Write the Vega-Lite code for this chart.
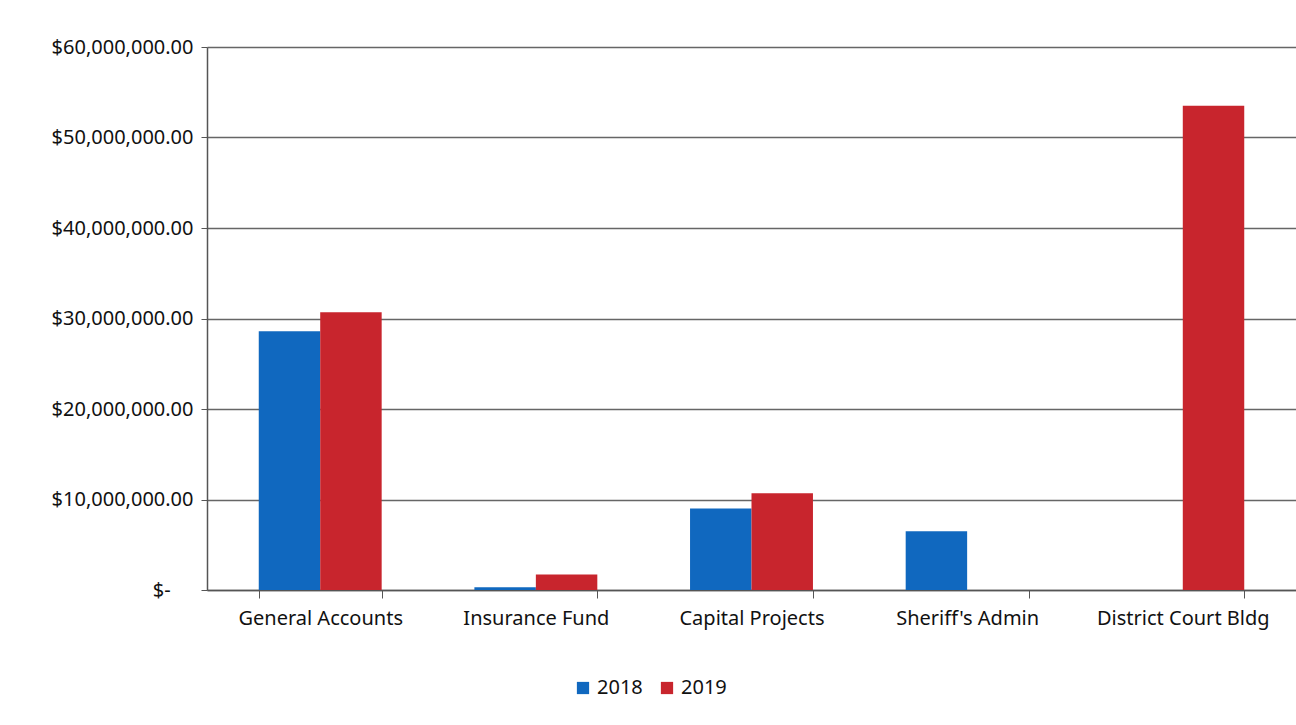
{
  "$schema": "https://vega.github.io/schema/vega-lite/v6.json",
  "width": 1089,
  "height": 543,
  "autosize": {"type": "none"},
  "padding": {"left": 207, "top": 47, "right": 0, "bottom": 135},
  "background": "white",
  "config": {
    "font": "Noto Sans",
    "view": {"stroke": null}
  },
  "data": {
    "values": [
      {"fund": "General Accounts", "year": "2018", "amount": 28600000},
      {"fund": "General Accounts", "year": "2019", "amount": 30700000},
      {"fund": "Insurance Fund", "year": "2018", "amount": 300000},
      {"fund": "Insurance Fund", "year": "2019", "amount": 1700000},
      {"fund": "Capital Projects", "year": "2018", "amount": 9000000},
      {"fund": "Capital Projects", "year": "2019", "amount": 10700000},
      {"fund": "Sheriff's Admin", "year": "2018", "amount": 6500000},
      {"fund": "Sheriff's Admin", "year": "2019", "amount": 0},
      {"fund": "District Court Bldg", "year": "2018", "amount": 0},
      {"fund": "District Court Bldg", "year": "2019", "amount": 53500000}
    ]
  },
  "mark": {"type": "bar"},
  "encoding": {
    "x": {
      "field": "fund",
      "type": "nominal",
      "sort": null,
      "title": null,
      "scale": {"paddingInner": 0.43, "paddingOuter": 0.24},
      "axis": {
        "labelAngle": 0,
        "labelFontSize": 20,
        "labelColor": "#111",
        "labelPadding": 10,
        "tickBand": "extent",
        "tickSize": 8,
        "tickColor": "#555",
        "domainColor": "#555",
        "domainWidth": 1.5
      }
    },
    "xOffset": {"field": "year", "type": "nominal"},
    "y": {
      "field": "amount",
      "type": "quantitative",
      "title": null,
      "scale": {"domain": [0, 60000000]},
      "axis": {
        "values": [0, 10000000, 20000000, 30000000, 40000000, 50000000, 60000000],
        "labelOverlap": false,
        "labelExpr": "datum.value == 0 ? '$-\u2007\u2007\u200b' : '$' + format(datum.value, ',.2f')",
        "labelFontSize": 20,
        "labelColor": "#111",
        "labelPadding": 8,
        "tickSize": 6,
        "tickColor": "#555",
        "domainColor": "#555",
        "domainWidth": 1.5,
        "gridColor": "#666",
        "gridWidth": 1.5
      }
    },
    "color": {
      "field": "year",
      "type": "nominal",
      "title": null,
      "scale": {"domain": ["2018", "2019"], "range": ["#1068bf", "#c8252d"]},
      "legend": {
        "orient": "none",
        "direction": "horizontal",
        "legendX": 366,
        "legendY": 631,
        "symbolType": "square",
        "symbolSize": 150,
        "symbolStrokeWidth": 0,
        "labelFontSize": 20,
        "labelColor": "#111",
        "columnPadding": 14
      }
    }
  }
}
